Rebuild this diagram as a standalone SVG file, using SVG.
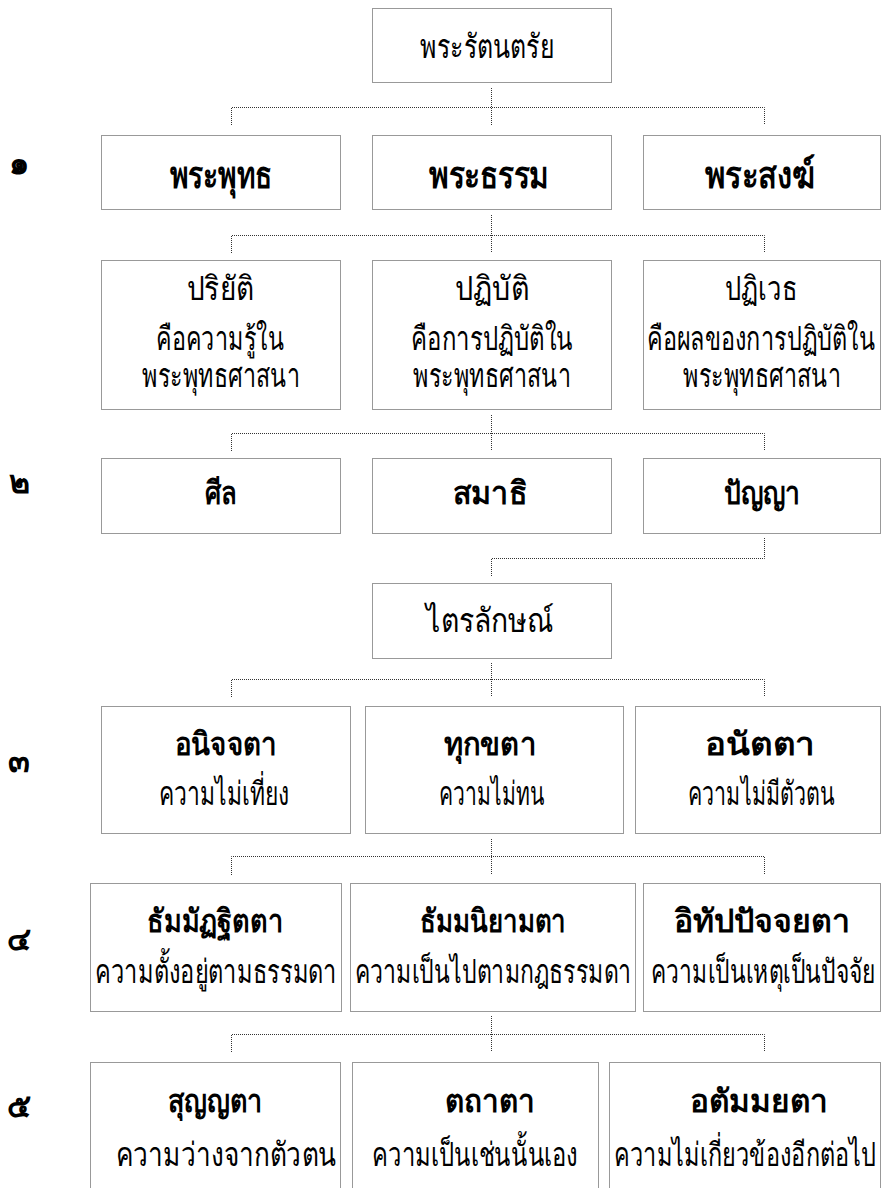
<svg xmlns="http://www.w3.org/2000/svg" width="881" height="1188" viewBox="0 0 881 1188">
<style>
.box{fill:none;stroke:#333;stroke-width:1;stroke-dasharray:1 1}
.conn{fill:none;stroke:#333;stroke-width:1;stroke-dasharray:1 1}
.t{font-family:'Noto Sans','DejaVu Sans',sans-serif;font-size:33px;fill:#000;text-anchor:middle}
.b{font-family:'Noto Sans','DejaVu Sans',sans-serif;font-size:32px;font-weight:bold;fill:#000;text-anchor:middle}
.b1{font-size:38px}
.n{font-family:'Noto Sans','DejaVu Sans',sans-serif;font-size:32px;font-weight:bold;fill:#000;text-anchor:middle}
</style>
<rect width="881" height="1188" fill="#fff"/>
<g id="connectors">
<path class="conn" d="M491.5 88V125M231.5 125V107.5H764.5V125"/>
<path class="conn" d="M491.5 215V253M231.5 253V235.5H764.5V253"/>
<path class="conn" d="M491.5 415V451M231.5 451V433.5H764.5V451"/>
<path class="conn" d="M764.5 538V558.5H491.5V577"/>
<path class="conn" d="M491.5 663V697M231.5 697V679.5H764.5V697"/>
<path class="conn" d="M491.5 839V875M231.5 875V856.5H764.5V875"/>
<path class="conn" d="M491.5 1016V1052M231.5 1052V1034.5H764.5V1052"/>
</g>
<g id="levels">
<text class="n" x="19" y="174">๑</text>
<text class="n" x="19" y="493">๒</text>
<text class="n" x="19" y="772">๓</text>
<text class="n" x="19" y="950">๔</text>
<text class="n" x="19" y="1117">๕</text>
</g>
<g id="n-ratanatrai"><rect class="box" x="372.5" y="8.5" width="239" height="74"/><text class="t" x="487" y="58" textLength="134" lengthAdjust="spacingAndGlyphs">พระรัตนตรัย</text></g>
<g id="n-buddha"><rect class="box" x="101.5" y="135.5" width="239" height="74"/><text class="b b1" x="221" y="188" textLength="102" lengthAdjust="spacingAndGlyphs">พระพุทธ</text></g>
<g id="n-dhamma"><rect class="box" x="372.5" y="135.5" width="239" height="74"/><text class="b b1" x="489" y="188" textLength="120" lengthAdjust="spacingAndGlyphs">พระธรรม</text></g>
<g id="n-sangha"><rect class="box" x="643.5" y="135.5" width="237" height="74"/><text class="b b1" x="760" y="188" textLength="110" lengthAdjust="spacingAndGlyphs">พระสงฆ์</text></g>
<g id="n-pariyatti"><rect class="box" x="101.5" y="260.5" width="239" height="149"/><text class="t" x="220" y="300" textLength="67" lengthAdjust="spacingAndGlyphs">ปริยัติ</text><text class="t" x="220" y="350" textLength="128" lengthAdjust="spacingAndGlyphs">คือความรู้ใน</text><text class="t" x="221" y="387" textLength="158" lengthAdjust="spacingAndGlyphs">พระพุทธศาสนา</text></g>
<g id="n-patipatti"><rect class="box" x="372.5" y="260.5" width="239" height="149"/><text class="t" x="492" y="300" textLength="74" lengthAdjust="spacingAndGlyphs">ปฏิบัติ</text><text class="t" x="492" y="350" textLength="162" lengthAdjust="spacingAndGlyphs">คือการปฏิบัติใน</text><text class="t" x="492" y="387" textLength="158" lengthAdjust="spacingAndGlyphs">พระพุทธศาสนา</text></g>
<g id="n-pativedha"><rect class="box" x="643.5" y="260.5" width="237" height="149"/><text class="t" x="761" y="300" textLength="72" lengthAdjust="spacingAndGlyphs">ปฏิเวธ</text><text class="t" x="761" y="350" textLength="228" lengthAdjust="spacingAndGlyphs">คือผลของการปฏิบัติใน</text><text class="t" x="762" y="387" textLength="158" lengthAdjust="spacingAndGlyphs">พระพุทธศาสนา</text></g>
<g id="n-sila"><rect class="box" x="101.5" y="458.5" width="239" height="75"/><text class="b" x="221" y="504" textLength="32" lengthAdjust="spacingAndGlyphs">ศีล</text></g>
<g id="n-samadhi"><rect class="box" x="372.5" y="458.5" width="239" height="75"/><text class="b" x="490" y="504" textLength="75" lengthAdjust="spacingAndGlyphs">สมาธิ</text></g>
<g id="n-panya"><rect class="box" x="643.5" y="458.5" width="237" height="75"/><text class="b" x="762" y="504" textLength="76" lengthAdjust="spacingAndGlyphs">ปัญญา</text></g>
<g id="n-trailak"><rect class="box" x="372.5" y="583.5" width="239" height="75"/><text class="t" x="490" y="632" textLength="128" lengthAdjust="spacingAndGlyphs">ไตรลักษณ์</text></g>
<g id="n-anicca"><rect class="box" x="101.5" y="706.5" width="249" height="127"/><text class="b" x="226" y="755" textLength="102" lengthAdjust="spacingAndGlyphs">อนิจจตา</text><text class="t" x="224" y="805" textLength="131" lengthAdjust="spacingAndGlyphs">ความไม่เที่ยง</text></g>
<g id="n-dukkha"><rect class="box" x="365.5" y="706.5" width="258" height="127"/><text class="b" x="490" y="755" textLength="92" lengthAdjust="spacingAndGlyphs">ทุกขตา</text><text class="t" x="492" y="805" textLength="106" lengthAdjust="spacingAndGlyphs">ความไม่ทน</text></g>
<g id="n-anatta"><rect class="box" x="635.5" y="706.5" width="245" height="127"/><text class="b" x="760" y="755" textLength="110" lengthAdjust="spacingAndGlyphs">อนัตตา</text><text class="t" x="761" y="805" textLength="147" lengthAdjust="spacingAndGlyphs">ความไม่มีตัวตน</text></g>
<g id="n-dhammatthitata"><rect class="box" x="90.5" y="883.5" width="251" height="128"/><text class="b" x="215" y="932" textLength="136" lengthAdjust="spacingAndGlyphs">ธัมมัฏฐิตตา</text><text class="t" x="216" y="983" textLength="242" lengthAdjust="spacingAndGlyphs">ความตั้งอยู่ตามธรรมดา</text></g>
<g id="n-dhammaniyamata"><rect class="box" x="350.5" y="883.5" width="285" height="128"/><text class="b" x="493" y="932" textLength="146" lengthAdjust="spacingAndGlyphs">ธัมมนิยามตา</text><text class="t" x="493" y="983" textLength="277" lengthAdjust="spacingAndGlyphs">ความเป็นไปตามกฎธรรมดา</text></g>
<g id="n-idappaccayata"><rect class="box" x="643.5" y="883.5" width="237" height="128"/><text class="b" x="762" y="932" textLength="176" lengthAdjust="spacingAndGlyphs">อิทัปปัจจยตา</text><text class="t" x="763" y="983" textLength="224" lengthAdjust="spacingAndGlyphs">ความเป็นเหตุเป็นปัจจัย</text></g>
<g id="n-sunnata"><rect class="box" x="90.5" y="1062.5" width="250" height="140"/><text class="b" x="215" y="1112" textLength="95" lengthAdjust="spacingAndGlyphs">สุญญตา</text><text class="t" x="226" y="1166" textLength="221" lengthAdjust="spacingAndGlyphs">ความว่างจากตัวตน</text></g>
<g id="n-tathata"><rect class="box" x="352.5" y="1062.5" width="246" height="140"/><text class="b" x="490" y="1112" textLength="90" lengthAdjust="spacingAndGlyphs">ตถาตา</text><text class="t" x="475" y="1166" textLength="206" lengthAdjust="spacingAndGlyphs">ความเป็นเช่นนั้นเอง</text></g>
<g id="n-atammayata"><rect class="box" x="609.5" y="1062.5" width="271" height="140"/><text class="b" x="759" y="1112" textLength="138" lengthAdjust="spacingAndGlyphs">อตัมมยตา</text><text class="t" x="745" y="1166" textLength="262" lengthAdjust="spacingAndGlyphs">ความไม่เกี่ยวข้องอีกต่อไป</text></g>
</svg>
